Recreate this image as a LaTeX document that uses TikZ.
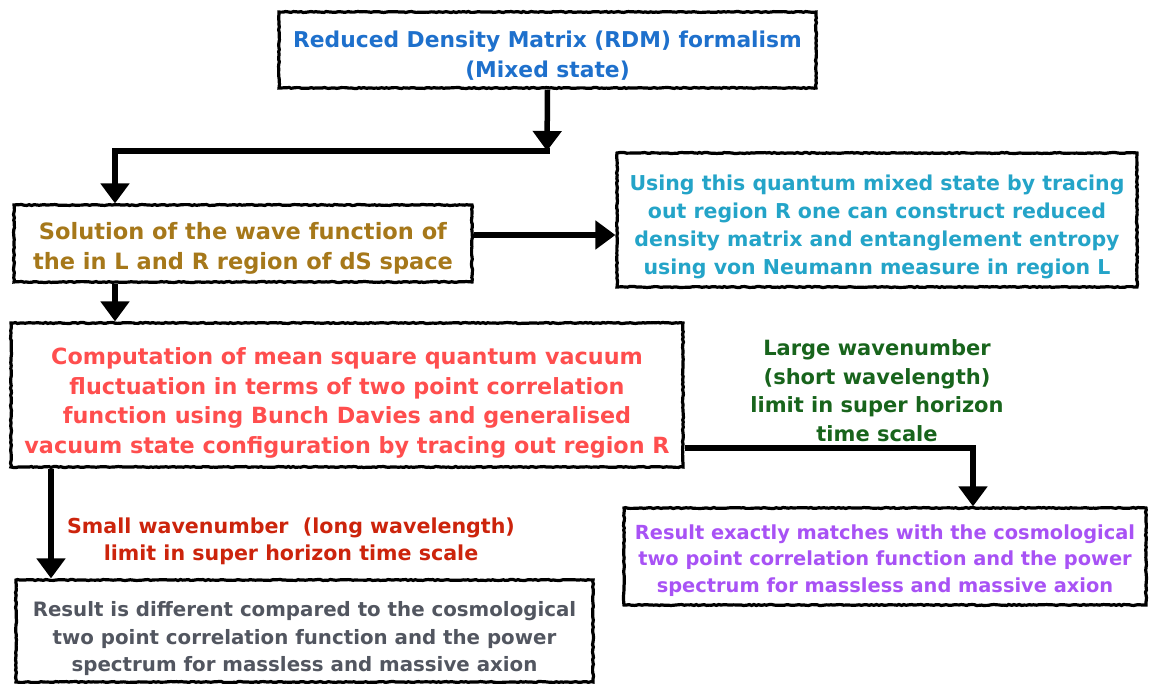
\documentclass[tikz,border=0pt]{standalone}
\usepackage{fontspec}
\setmainfont{DejaVu Sans}
\usetikzlibrary{arrows.meta,decorations.pathmorphing}
\definecolor{cblue}{RGB}{30,112,204}
\definecolor{cgold}{RGB}{166,120,26}
\definecolor{ccyan}{RGB}{36,164,200}
\definecolor{cred}{RGB}{255,78,78}
\definecolor{cgreen}{RGB}{24,100,28}
\definecolor{cpurple}{RGB}{168,82,245}
\definecolor{cdred}{RGB}{204,36,12}
\definecolor{cgray}{RGB}{82,86,96}
\tikzset{
  box/.style={draw=black, line width=3.2pt, rectangle, fill=white, inner sep=0pt,
    decorate, decoration={random steps, segment length=2.5pt, amplitude=0.5pt}},
  txt/.style={align=center, inner sep=0pt, font=\bfseries},
  arr/.style={line width=5.5pt, -{Triangle[width=28pt,length=20pt]}},
  seg/.style={line width=5.5pt},
}
\begin{document}
\begin{tikzpicture}[x=1pt,y=-1pt]
\useasboundingbox (0,0) rectangle (1149,684);
\node[box, minimum width=537pt, minimum height=76pt] (top) at (547.5,50) {};
\node[txt, text=cblue, font=\bfseries\fontsize{21.8}{30}\selectfont] (topT) at ([yshift=-6pt]top.center)
  {Reduced Density Matrix (RDM) formalism\\(Mixed state)};
\node[box, minimum width=458pt, minimum height=77pt] (sol) at (243,243.5) {};
\node[txt, text=cgold, font=\bfseries\fontsize{22.5}{30}\selectfont] (solT) at ([yshift=-5pt]sol.center)
  {Solution of the wave function of\\the in L and R region of dS space};
\node[box, minimum width=520pt, minimum height=134pt] (cyan) at (877,220) {};
\node[txt, text=ccyan, font=\bfseries\fontsize{20.5}{28}\selectfont] (cyanT) at ([yshift=-7pt]cyan.center)
  {Using this quantum mixed state by tracing\\out region R one can construct reduced\\density matrix and entanglement entropy\\using von Neumann measure in region L};
\node[box, minimum width=672pt, minimum height=144pt] (red) at (347,395) {};
\node[txt, text=cred, font=\bfseries\fontsize{22.3}{29.5}\selectfont] (redT) at ([yshift=-8pt]red.center)
  {Computation of mean square quantum vacuum\\fluctuation in terms of two point correlation\\function using Bunch Davies and generalised\\vacuum state configuration by tracing out region R};
\node[box, minimum width=522pt, minimum height=97pt] (purple) at (885,556.5) {};
\node[txt, text=cpurple, font=\bfseries\fontsize{19.4}{26.5}\selectfont] (purpleT) at ([yshift=-4pt]purple.center)
  {Result exactly matches with the cosmological\\two point correlation function and the power\\spectrum for massless and massive axion};
\node[box, minimum width=577pt, minimum height=102pt] (gray) at (304.5,631) {};
\node[txt, text=cgray, font=\bfseries\fontsize{19.8}{27.5}\selectfont] (grayT) at ([yshift=-8pt]gray.center)
  {Result is different compared to the cosmological\\two point correlation function and the power\\spectrum for massless and massive axion};
\node[txt, text=cgreen, font=\bfseries\fontsize{21}{28.5}\selectfont] (glbl) at (877,390.5)
  {Large wavenumber\\(short wavelength)\\limit in super horizon\\time scale};
\node[txt, text=cdred, font=\bfseries\fontsize{20.6}{27}\selectfont] (rlbl) at (291,541.5)
  {Small wavenumber~ (long wavelength)\\limit in super horizon time scale};
\coordinate (j1) at (547,151);
\coordinate (j2) at (115,151);
\coordinate (c3) at (51,0);
\coordinate (j3) at (973,448);
\coordinate (c1) at (0,235);
\draw[arr] (top.south) -- (j1);
\draw[seg, line cap=rect] (j1) -- (j2);
\draw[arr] (j2) -- (j2 |- sol.north);
\draw[arr] (sol.east |- c1) -- (cyan.west |- c1);
\draw[arr] (j2 |- sol.south) -- (j2 |- red.north);
\draw[arr] (c3 |- red.south) -- (c3 |- gray.north);
\draw[arr] (red.east |- j3) -- (j3) -- (j3 |- purple.north);
\end{tikzpicture}
\end{document}
